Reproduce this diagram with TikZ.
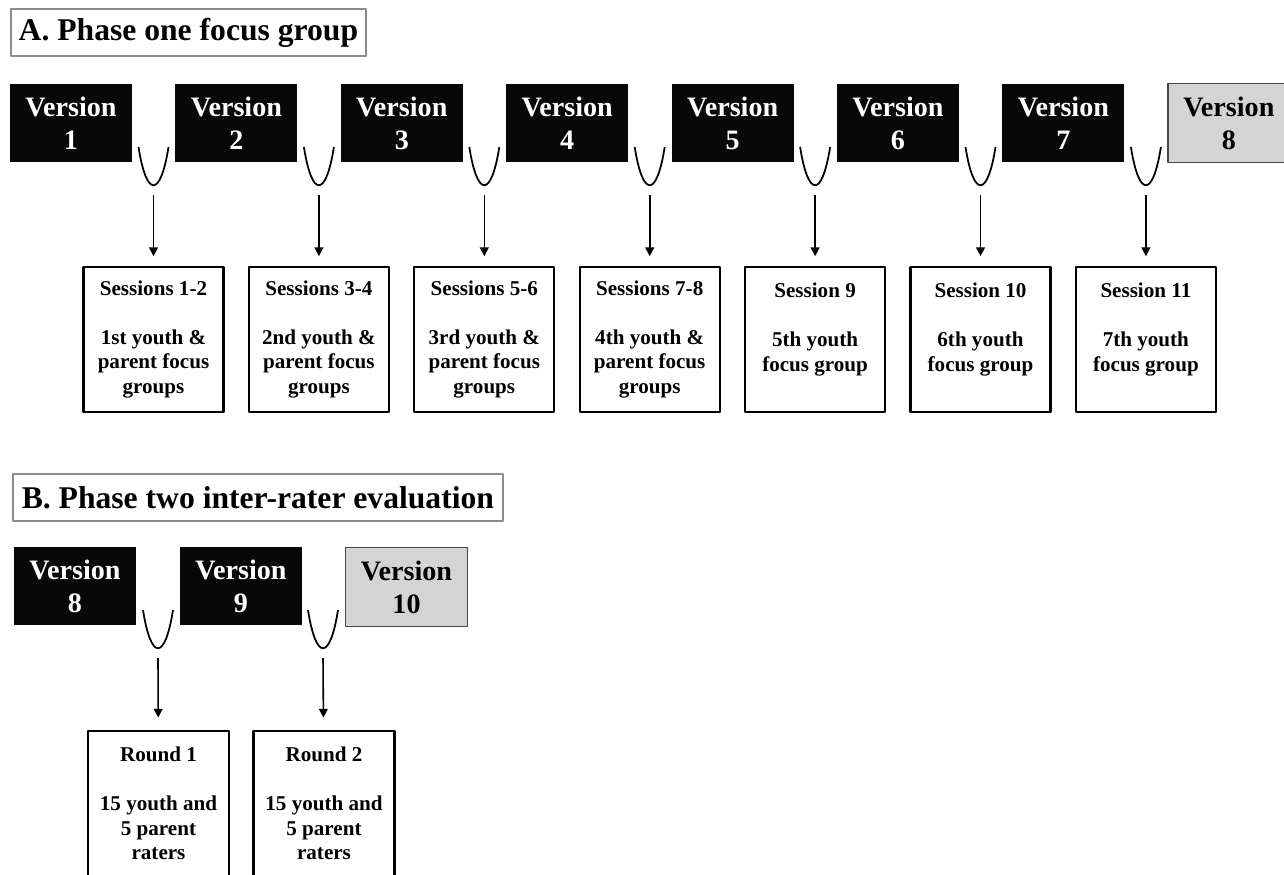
\documentclass[tikz,border=0pt]{standalone}
\usepackage{fontspec}
\setmainfont{Liberation Serif}
\usetikzlibrary{arrows.meta}

\begin{document}
\begin{tikzpicture}[
    x=0.02cm, y=-0.02cm,
    font=\bfseries,
    >={Triangle[length=5pt,width=5pt]},
    line join=round
]

% ========= Colors =========
\definecolor{verdark}{RGB}{8,8,8}
\definecolor{verlight}{RGB}{212,212,212}
\definecolor{verline}{RGB}{70,70,70}
\definecolor{titleline}{RGB}{140,140,140}

% ========= Styles =========
\tikzset{
    phasetitle/.style={draw=titleline, line width=1.1pt, fill=white, anchor=north west,
        minimum height=0.94cm, font=\fontsize{18}{21}\selectfont\bfseries},
    versionbox/.style={fill=verdark, text=white, minimum width=2.44cm, minimum height=1.58cm,
        align=center, font=\fontsize{16}{18.7}\selectfont\bfseries},
    finalbox/.style={versionbox, fill=verlight, draw=verline, line width=1.1pt, text=black},
    sessionbox/.style={draw, line width=1.3pt, minimum width=2.8cm, minimum height=2.9cm,
        align=center, font=\fontsize{12}{13.9}\selectfont\bfseries},
    cupline/.style={line width=1pt},
    feed/.style={->, line width=0.9pt, shorten >=5.5pt}
}

% ========= Helper: merge cup =========
% args: x, y (top of cup), name of the coordinate under it
\newcommand{\mergecup}[3]{
    \draw[cupline] (#1-15,#2) .. controls (#1-7,#2+51) and (#1+7,#2+51) .. (#1+15,#2);
    \coordinate (#3) at (#1,#2+48);
}

\clip (0,0) rectangle (1284,875);

% ========= Phase A =========
\node[phasetitle, minimum width=7.1cm] (titleA) at (10,8) {A. Phase one focus group};

\foreach \i in {1,...,7}
{
    \pgfmathsetmacro\vx{71+165.4*(\i-1)}
    \node[versionbox] (va\i) at (\vx,123) {Version\\\i};
}
\node[finalbox] (va8) at (1228.8,123) {Version\\8};

\foreach \i/\txt in {
    1/{Sessions 1-2\\~\\1st youth \&\\parent focus\\groups},
    2/{Sessions 3-4\\~\\2nd youth \&\\parent focus\\groups},
    3/{Sessions 5-6\\~\\3rd youth \&\\parent focus\\groups},
    4/{Sessions 7-8\\~\\4th youth \&\\parent focus\\groups},
    5/{Session 9\\~\\5th youth\\focus group\\~},
    6/{Session 10\\~\\6th youth\\focus group\\~},
    7/{Session 11\\~\\7th youth\\focus group\\~}}
{
    \pgfmathsetmacro\sx{153.5+165.4*(\i-1)}
    \mergecup{\sx}{147}{ca\i}
    \node[sessionbox] (sa\i) at (\sx,339.5) {\txt};
    \draw[feed] (ca\i) -- (sa\i);
}

% ========= Phase B =========
\node[phasetitle, minimum width=9.8cm] (titleB) at (12,473) {B. Phase two inter-rater evaluation};

\node[versionbox] (vb8) at (75,586) {Version\\8};
\node[versionbox] (vb9) at (241,586) {Version\\9};
\node[finalbox] (vb10) at (406.5,587) {Version\\10};

\mergecup{158}{610}{cb1}
\mergecup{323}{610}{cb2}

\node[sessionbox, minimum width=2.82cm] (rb1) at (158.5,803.5) {Round 1\\~\\15 youth and\\5 parent\\raters};
\node[sessionbox, minimum width=2.82cm] (rb2) at (324,803.5) {Round 2\\~\\15 youth and\\5 parent\\raters};

\draw[feed, shorten >=7pt] (cb1) -- (rb1);
\draw[feed, shorten >=7pt] (cb2) -- (rb2);

\end{tikzpicture}
\end{document}
